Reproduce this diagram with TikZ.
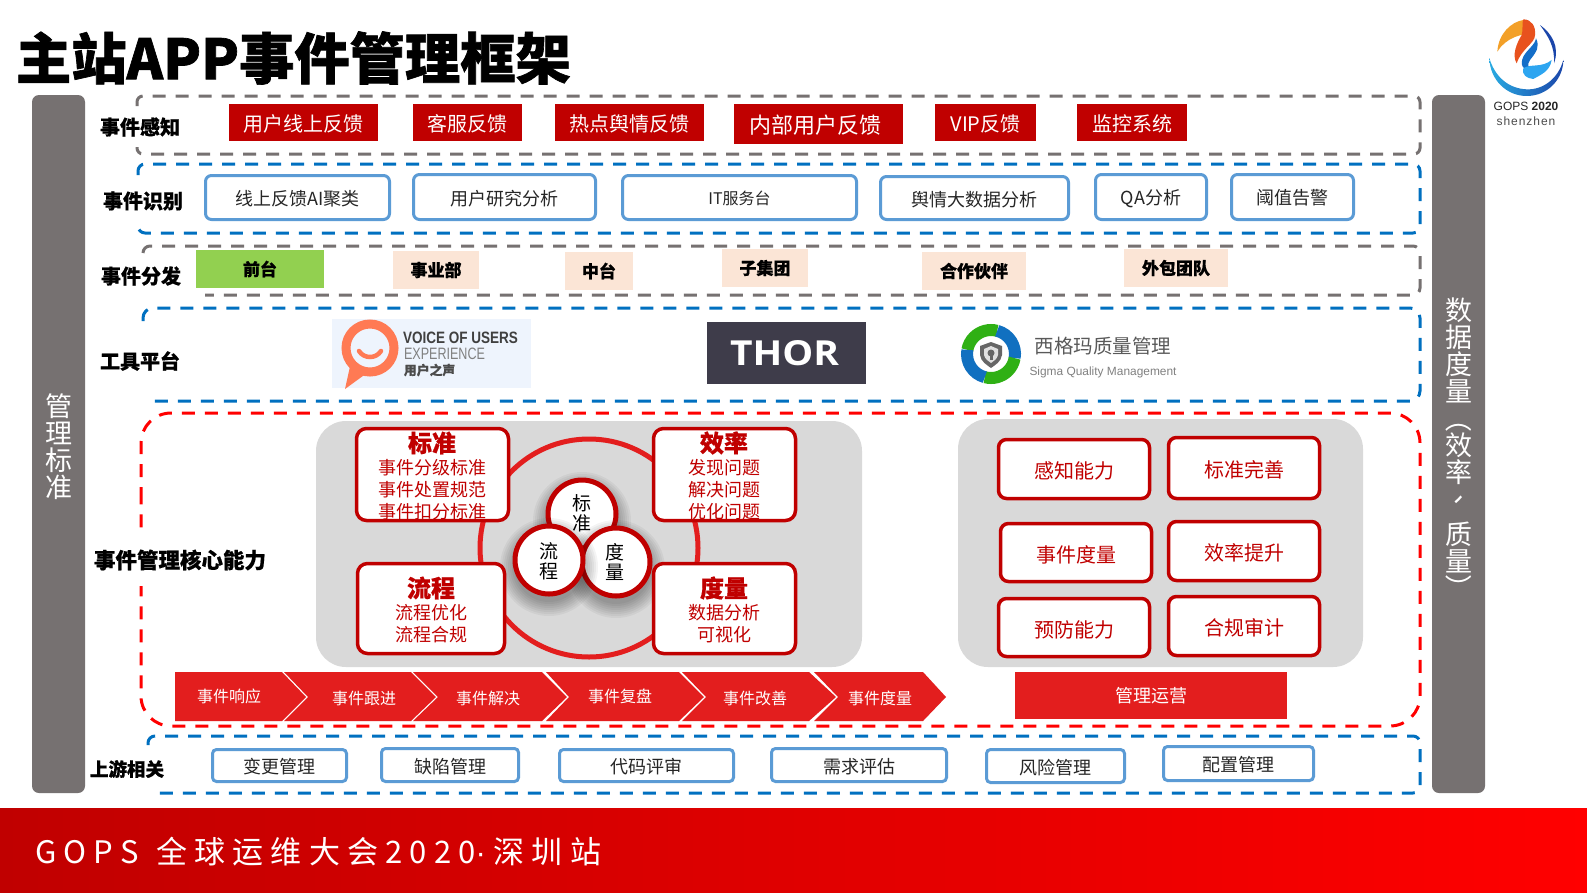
\documentclass[tikz,border=0pt]{standalone}
\usepackage{fontspec}
\usepackage{graphicx}
\setmainfont{Noto Sans CJK SC}
\newfontfamily\lat{Liberation Sans}
\newfontfamily\opf{Open Sans}
\usetikzlibrary{calc}
\newcommand{\fs}[1]{\fontsize{#1}{#1}\selectfont}
\newcommand{\hb}{\bfseries\addfontfeature{FakeBold=0.6}}
\newlength{\mydn}
\definecolor{barg}{HTML}{767171}
\definecolor{dblue}{HTML}{0070C0}
\definecolor{lblue}{HTML}{5B9BD5}
\definecolor{dred}{HTML}{C00000}
\definecolor{mred}{HTML}{E31E1E}
\definecolor{peach}{HTML}{FBE5D6}
\definecolor{lgreen}{HTML}{92D050}
\definecolor{pgray}{HTML}{D9D9D9}
\definecolor{voubg}{HTML}{EEF4FD}
\definecolor{vouor}{HTML}{FF7A54}
\definecolor{thorbg}{HTML}{3E3C4A}
\definecolor{sgreen}{HTML}{2FB014}
\definecolor{sblue}{HTML}{1170C0}
\definecolor{gsky}{HTML}{29ABE2}
\definecolor{gnavy}{HTML}{1B46AA}
\definecolor{gorange}{HTML}{F3A028}
\definecolor{gred}{HTML}{E8521E}
\definecolor{gblue}{HTML}{146EC8}
\definecolor{glight}{HTML}{2DA5F0}
\tikzset{
  cell/.style={inner sep=0pt,outer sep=0pt,align=center},
  txt/.style={inner sep=0pt,outer sep=0pt,align=center},
  lower/.style={execute at begin node={\setlength{\mydn}{#1}}},
  bar/.style={cell,fill=barg,rounded corners=7pt},
  sense/.style={cell,fill=dred,text=white,font=\fs{20},lower=1.5pt},
  idbox/.style={cell,draw=lblue,line width=3pt,fill=white,rounded corners=6pt,text=black!85,font=\fs{18},lower=1.2pt},
  peachbox/.style={cell,fill=peach,font=\fs{17}\hb},
  greenbox/.style={cell,fill=lgreen,font=\fs{17}\hb},
  rowlabel/.style={txt,font=\fs{20}\hb},
  capbox/.style={cell,draw=dred,line width=3.5pt,fill=white,rounded corners=8pt,text=dred,font=\fs{20},lower=2pt},
  panel/.style={cell,fill=pgray,rounded corners=30pt},
  frameg/.style={draw=barg,line width=3pt,dash pattern=on 13pt off 10pt},
  frameb/.style={draw=dblue,line width=3pt,dash pattern=on 13pt off 10pt},
  framer/.style={draw=red,line width=3pt,dash pattern=on 13pt off 10pt},
  ctitle/.style={txt,text=dred,font=\fs{24}\hb},
  cbody/.style={txt,text=dred,font=\fontsize{18}{22}\selectfont},
  mini/.style={circle,draw=dred,line width=5pt,fill=white,inner sep=0pt,outer sep=0pt,minimum size=68pt,align=center},
  minitxt/.style={txt,font=\fontsize{19}{20}\selectfont},
  chevtxt/.style={txt,text=white,font=\fs{16}},
}
\newcommand{\bx}[7]{\node[#1,minimum width={(#5-#3)*1pt},minimum height={(#6-#4)*1pt}] (#2) at ({(#3+#5)/2},{(#4+#6)/2}) {\raisebox{-\mydn}[\height][\depth]{#7}};}
\newcommand{\sbx}[7]{\node[#1,minimum width={(#5-#3-3)*1pt},minimum height={(#6-#4-3)*1pt}] (#2) at ({(#3+#5)/2},{(#4+#6)/2}) {\raisebox{-\mydn}[\height][\depth]{#7}};}
\newcommand{\softshadow}[3]{\foreach \rr in {0,2,...,14}{\fill[black,opacity=.045] (#1,#2+7) circle[radius=#3+\rr];}}
\begin{document}
\begin{tikzpicture}[x=1pt,y=-1pt]
\useasboundingbox (0,0) rectangle (1587,892);
\fill[white] (0,0) rectangle (1587,892);
% footer
\shade[left color=dred,right color=red] (0,808) rectangle (1587,892);
\node[txt,anchor=west,text=white,font=\fs{31}] (foot) at (35,852) {\addfontfeature{LetterSpace=23}GOPS\hspace{4pt} 全球运维大会2020{\lat ·}\hspace{8pt}深圳站};
% title
\node[txt,anchor=west,font=\bfseries\fs{55.3}] (title) at (16,58) {\addfontfeature{FakeBold=1.2}主站APP事件管理框架};
% side bars
\bx{bar}{leftbar}{32}{95}{85}{793}{}
\bx{bar}{rightbar}{1432}{95}{1485}{793}{}
\node[txt,text=white,font=\fontsize{27}{27}\selectfont] (lefttxt) at (58.5,447) {管\\理\\标\\准};
\node[txt,text=white,font=\fontsize{27}{27}\selectfont] (righttxt) at (1459,450) {数\\据\\度\\量\\\rotatebox[origin=c]{-90}{（}\\效\\率\\\rotatebox[origin=c]{-90}{、}\\质\\量\\\rotatebox[origin=c]{-90}{）}};
% dashed frames
\draw[frameg,rounded corners=6pt] (137,106)--(137,96)--(1420,96)--(1420,154)--(137,154)--(137,147);
\draw[frameb,rounded corners=7pt] (138,175)--(138,164)--(1420,164)--(1420,233)--(138,233)--(138,226);
\draw[frameg,rounded corners=7pt] (143,253)--(143,246)--(1420,246)--(1420,295)--(205,295);
\draw[frameb,rounded corners=10pt] (143,321)--(143,308)--(1420,308)--(1420,401)--(150,401);
\draw[framer,rounded corners=30pt] (141,500)--(141,413)--(1420,413)--(1420,726)--(141,726)--(141,500);
\draw[frameb,rounded corners=7pt] (148,745)--(148,736)--(1420,736)--(1420,793)--(150,793);
% row labels
\node[rowlabel] (l1) at (140,127) {事件感知};
\node[rowlabel] (l2) at (143,201) {事件识别};
\node[rowlabel] (l3) at (141,276) {事件分发};
\node[rowlabel] (l4) at (140,361) {工具平台};
\node[rowlabel,font=\fs{21.5}\hb,fill=white,minimum height=51pt] (l5) at (180,560) {事件管理核心能力};
\node[rowlabel,font=\fs{18.5}\hb] (l6) at (127,769) {上游相关};
% row 1
\bx{sense}{s1}{229}{104}{378}{141}{用户线上反馈}
\bx{sense}{s2}{413}{104}{522}{141}{客服反馈}
\bx{sense}{s3}{555}{104}{704}{141}{热点舆情反馈}
\bx{sense,font=\fs{22}}{s4}{734}{104}{903}{144}{\hspace*{-6pt}内部用户反馈}
\bx{sense}{s5}{935}{104}{1036}{141}{VIP反馈}
\bx{sense}{s6}{1077}{104}{1187}{141}{监控系统}
% row 2
\sbx{idbox}{i1}{204}{174}{391}{221}{线上反馈AI聚类}
\sbx{idbox}{i2}{412}{173}{597}{221}{用户研究分析}
\sbx{idbox,font=\fs{16}}{i3}{621}{174}{858}{221}{IT服务台}
\sbx{idbox}{i4}{879}{175}{1070}{221}{舆情大数据分析}
\sbx{idbox}{i5}{1094}{173}{1208}{221}{QA分析}
\sbx{idbox}{i6}{1230}{173}{1355}{221}{阈值告警}
% row 3
\bx{greenbox}{d1}{196}{250}{324}{288}{前台}
\bx{peachbox}{d2}{393}{251}{479}{289}{事业部}
\bx{peachbox}{d3}{565}{252}{633}{290}{中台}
\bx{peachbox}{d4}{722}{249}{808}{287}{子集团}
\bx{peachbox}{d5}{922}{252}{1026}{290}{合作伙伴}
\bx{peachbox}{d6}{1124}{249}{1228}{287}{外包团队}
% VOU logo
\fill[voubg] (332,319) rectangle (531,388);
\draw[vouor,line width=9pt] (370,348) circle[radius=24];
\fill[vouor] (351,362)--(345,389)--(367,373)--cycle;
\draw[vouor,line width=4.5pt,line cap=round] (359,351) .. controls (364,359) and (376,359) .. (381,351);
\node[txt,anchor=west,text=black!75] (v1) at (403,338) {\lat\bfseries\resizebox{115pt}{11.5pt}{VOICE OF USERS}};
\node[txt,anchor=west,text=black!50] (v2) at (404,354) {\lat\resizebox{81pt}{11.5pt}{EXPERIENCE}};
\node[txt,anchor=west,text=black!70,font=\fs{12.8}\hb] (v3) at (404,370) {用户之声};
% THOR
\fill[thorbg] (707,322) rectangle (866,384);
\node[txt,text=white] (thor) at (784.5,353) {\opf\bfseries\resizebox{109pt}{25pt}{THOR}};
% Sigma logo
\begin{scope}[shift={(991,354)},y=1pt]
  \draw[sgreen,line width=12pt] (75:24) arc[start angle=75,end angle=170,radius=24];
  \draw[sblue,line width=12pt] (-10:24) arc[start angle=-10,end angle=75,radius=24];
  \draw[sgreen,line width=12pt] (-105:24) arc[start angle=-105,end angle=-10,radius=24];
  \draw[sblue,line width=12pt] (-190:24) arc[start angle=-190,end angle=-105,radius=24];
  \fill[black!60] (-11,8)--(0,12)--(11,8)--(11,-1)..controls (10,-8) and (4,-11)..(0,-14)..controls (-4,-11) and (-10,-8)..(-11,-1)--cycle;
  \fill[black!12] (-7,5)--(0,8)--(7,5)--(7,-1)..controls (6,-5) and (3,-7)..(0,-9)..controls (-3,-7) and (-6,-5)..(-7,-1)--cycle;
  \fill[black!60] (0,1) circle[radius=3.5];
  \fill[black!60] (-1.5,0) rectangle (1.5,-6);
\end{scope}
\node[txt,text=black!65,font=\fs{19.5}] (sg1) at (1103,346) {西格玛质量管理};
\node[txt,text=black!50] (sg2) at (1103,372) {\lat\resizebox{147pt}{!}{Sigma Quality Management}};
% core panels
\bx{panel}{pl}{316}{421}{862}{667}{}
\bx{panel}{pr}{958}{419}{1363}{667}{}
\node[circle,draw=mred,line width=5pt,minimum size=218pt,inner sep=0pt] (ring) at (589,548) {};
\softshadow{582}{514}{35}
\node[mini] (m1) at (582,514) {};
\node[minitxt] (m1t) at (582,513) {标\\准};
\softshadow{616}{562}{35}
\node[mini] (m3) at (616,562) {};
\node[minitxt] (m3t) at (615,562) {度\\量};
\softshadow{549}{560}{35}
\node[mini] (m2) at (549,560) {};
\node[minitxt] (m2t) at (549,561) {流\\程};
\sbx{capbox,rounded corners=10pt}{c1}{355}{427}{510}{522}{}
\sbx{capbox,rounded corners=10pt}{c2}{652}{427}{797}{522}{}
\sbx{capbox,rounded corners=10pt}{c3}{356}{562}{506}{655}{}
\sbx{capbox,rounded corners=10pt}{c4}{652}{562}{797}{655}{}
\node[ctitle] (c1t) at (432,443) {标准};
\node[cbody] (c1b) at (432,490) {事件分级标准\\事件处置规范\\事件扣分标准};
\node[ctitle] (c2t) at (724,443) {效率};
\node[cbody] (c2b) at (724,490) {发现问题\\解决问题\\优化问题};
\node[ctitle] (c3t) at (431,588) {流程};
\node[cbody] (c3b) at (431,623.5) {流程优化\\流程合规};
\node[ctitle] (c4t) at (724,588) {度量};
\node[cbody] (c4b) at (724,623.5) {数据分析\\可视化};
% right capabilities
\sbx{capbox}{k1}{997}{438}{1151}{500}{感知能力}
\sbx{capbox}{k2}{1167}{436}{1321}{500}{标准完善}
\sbx{capbox}{k3}{999}{522}{1153}{583}{事件度量}
\sbx{capbox}{k4}{1167}{520}{1321}{582}{效率提升}
\sbx{capbox}{k5}{997}{597}{1151}{658}{预防能力}
\sbx{capbox}{k6}{1167}{595}{1321}{657}{合规审计}
% chevrons
\fill[mred] (175,672)--(282,672)--(306,697)--(282,721)--(175,721)--cycle;
\fill[mred] (284,672)--(411,672)--(436,697)--(411,721)--(284,721)--(308,697)--cycle;
\fill[mred] (413,672)--(542,672)--(567,697)--(542,721)--(413,721)--(438,697)--cycle;
\fill[mred] (546,672)--(679,672)--(704,697)--(679,721)--(546,721)--(569,697)--cycle;
\fill[mred] (682,672)--(809,672)--(836,697)--(809,721)--(682,721)--(706,697)--cycle;
\fill[mred] (814,672)--(923,672)--(946,697)--(923,721)--(814,721)--(838,697)--cycle;
\node[chevtxt] (e1) at (229,696) {事件响应};
\node[chevtxt] (e2) at (364,698) {事件跟进};
\node[chevtxt] (e3) at (488,698) {事件解决};
\node[chevtxt] (e4) at (620,696) {事件复盘};
\node[chevtxt] (e5) at (755,698) {事件改善};
\node[chevtxt] (e6) at (880,698) {事件度量};
\bx{cell,fill=mred,text=white,font=\fs{18}}{ops}{1015}{672}{1287}{719}{管理运营}
% upstream
\sbx{idbox,rounded corners=4pt}{u1}{211}{748}{348}{783}{变更管理}
\sbx{idbox,rounded corners=4pt}{u2}{380}{747}{520}{783}{缺陷管理}
\sbx{idbox,rounded corners=4pt}{u3}{558}{748}{735}{783}{代码评审}
\sbx{idbox,rounded corners=4pt}{u4}{770}{747}{948}{783}{需求评估}
\sbx{idbox,rounded corners=4pt}{u5}{985}{748}{1126}{784}{风险管理}
\sbx{idbox,rounded corners=4pt}{u6}{1162}{745}{1315}{782}{配置管理}
% GOPS logo
\begin{scope}[shift={(1480,10)},x=.3333pt,y=-.3333pt]
  \shade[left color=gsky,right color=gnavy] (28,145) .. controls (30,210) and (80,258) .. (140,258) .. controls (205,258) and (250,205) .. (250,150) .. controls (235,205) and (190,240) .. (140,238) .. controls (85,236) and (45,200) .. (28,145) -- cycle;
  \fill[gorange] (52,125) .. controls (55,70) and (95,35) .. (130,30) .. controls (150,40) and (165,55) .. (165,75) .. controls (130,65) and (75,85) .. (52,125) -- cycle;
  \fill[gred] (130,28) .. controls (155,28) and (168,50) .. (165,75) .. controls (165,100) and (125,115) .. (110,160) .. controls (95,135) and (110,100) .. (125,75) .. controls (130,60) and (125,40) .. (130,28) -- cycle;
  \fill[gnavy] (180,45) .. controls (215,70) and (240,110) .. (222,160) .. controls (225,110) and (205,80) .. (180,45) -- cycle;
  \fill[gblue] (168,85) .. controls (180,110) and (170,125) .. (150,150) .. controls (140,165) and (145,172) .. (155,178) .. controls (130,185) and (118,165) .. (130,140) .. controls (140,120) and (165,105) .. (168,85) -- cycle;
  \fill[glight] (130,175) .. controls (150,160) and (185,175) .. (215,150) .. controls (210,185) and (180,195) .. (160,207) .. controls (140,205) and (125,195) .. (130,175) -- cycle;
\end{scope}
\node[txt,text=black!85,font=\fs{12}] (g1) at (1526,106) {\lat GOPS \textbf{2020}};
\node[txt,text=black!70,font=\fs{12}] (g2) at (1526,121) {\lat\addfontfeature{LetterSpace=8}shenzhen};
\end{tikzpicture}
\end{document}
